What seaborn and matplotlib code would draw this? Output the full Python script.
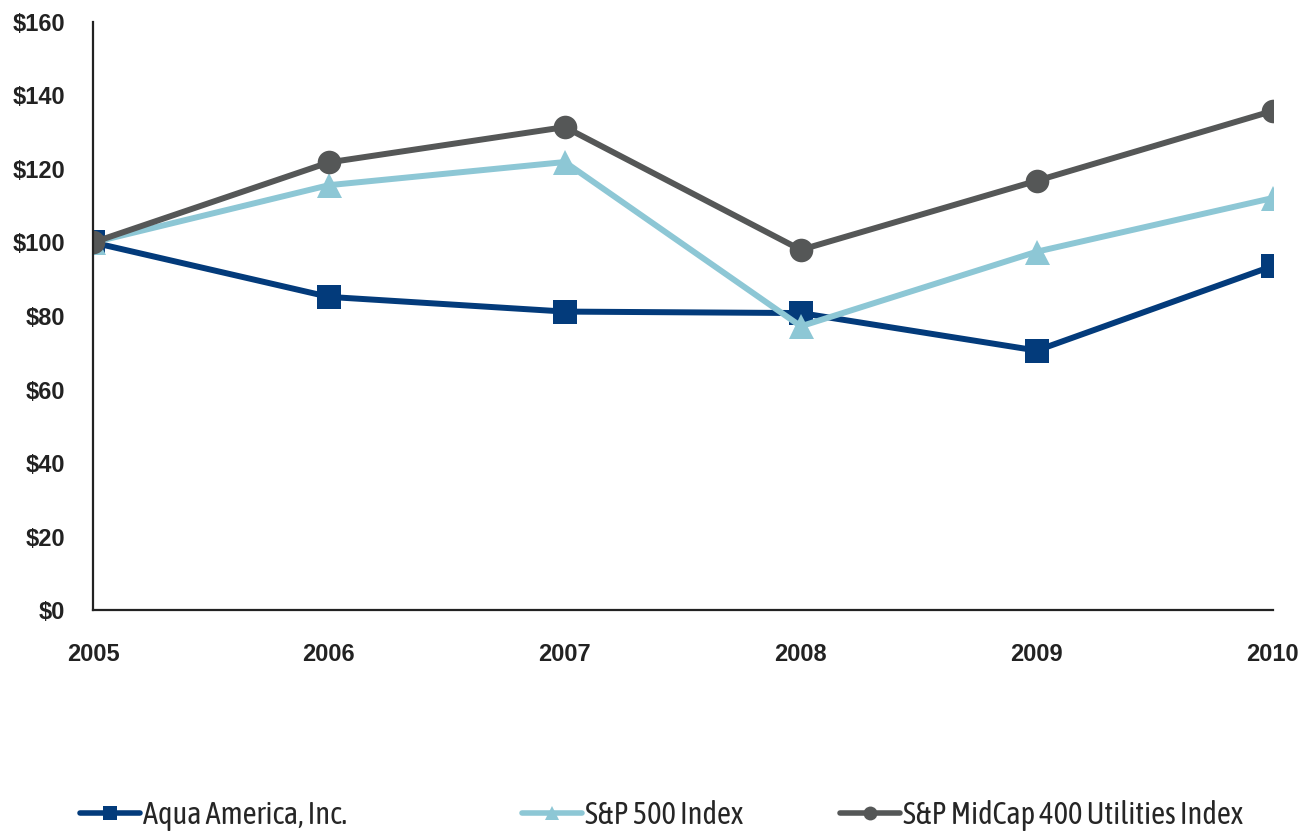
import pandas as pd
import numpy as np
import matplotlib.pyplot as plt
import seaborn as sns
from matplotlib.lines import Line2D

# data (cumulative total return, $100 invested in 2005)
years = [2005, 2006, 2007, 2008, 2009, 2010]
aqua = [100.0, 85.2, 81.2, 80.8, 70.6, 93.6]
sp500 = [100.0, 115.6, 121.9, 77.2, 97.5, 112.1]
midcap = [100.0, 121.8, 131.4, 98.0, 116.8, 135.8]

series_names = ["Aqua America, Inc.", "S&P 500 Index", "S&P MidCap 400 Utilities Index"]
colors = ["#033B7B", "#8DC7D5", "#555757"]
markers = ["s", "^", "o"]

df = pd.DataFrame({"Year": years * 3,
                   "Value": aqua + sp500 + midcap,
                   "Series": [n for n in series_names for _ in years]})

sns.set_style("white")
plt.rcParams["font.family"] = ["Liberation Sans", "DejaVu Sans"]

fig = plt.figure(figsize=(13.04, 8.33), dpi=100)
ax = fig.add_axes([0.0713, 0.2677, 0.9047, 0.7059])

for name, c, m in zip(series_names, colors, markers):
    sub = df[df["Series"] == name]
    sns.lineplot(data=sub, x="Year", y="Value", ax=ax, color=c, linewidth=4.3,
                 marker=m, markersize=17 if m != "^" else 18, markeredgewidth=0,
                 legend=False)

ax.set_xlim(2005, 2010)
ax.set_ylim(0, 160)
ax.set_xticks(years)
ax.set_xticklabels([str(y) for y in years])
ax.set_yticks(np.arange(0, 161, 20))
ax.set_yticklabels(["$" + str(v) for v in range(0, 161, 20)])
ax.set_xlabel("")
ax.set_ylabel("")

sns.despine(ax=ax)
for s in ["left", "bottom"]:
    ax.spines[s].set_color("#222222")
    ax.spines[s].set_linewidth(1.6)

ax.tick_params(axis="y", direction="out", length=6, width=1.6, color="#222222", pad=14,
               labelsize=17, labelcolor="#222222")
ax.tick_params(axis="x", direction="in", length=6, width=1.6, color="#222222", pad=24,
               labelsize=17, labelcolor="#222222")
for lbl in ax.get_xticklabels() + ax.get_yticklabels():
    lbl.set_fontweight("bold")

# legend entries placed individually along the bottom, like the original
legend_x = [80, 522, 840]
for name, c, m, x in zip(series_names, colors, markers, legend_x):
    h = Line2D([0], [0], color=c, linewidth=4, marker=m, markersize=10, markeredgewidth=0)
    fig.legend([h], [name], loc="center left", bbox_to_anchor=(x / 1304, 0.021),
               frameon=False, borderpad=0, borderaxespad=0, handlelength=1.95,
               handletextpad=0.12,
               prop={"family": ["Asap Condensed", "DejaVu Sans"], "size": 22})

fig.savefig("out.png", dpi=100)
